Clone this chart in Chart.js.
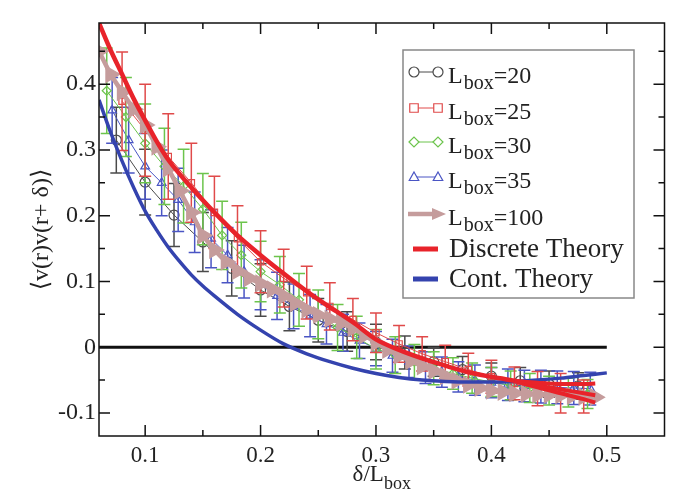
<!DOCTYPE html>
<html>
<head>
<meta charset="utf-8">
<script src="https://cdn.jsdelivr.net/npm/chart.js@4.4.1/dist/chart.umd.min.js"></script>
<style>
  html, body { margin: 0; padding: 0; background: #fff; }
  #wrap { width: 675px; height: 495px; }
</style>
</head>
<body>
<div id="wrap"><canvas id="corr"></canvas></div>
<script>
/* ---------- data ---------- */
const x20 = [0.075, 0.1, 0.125, 0.15, 0.175, 0.2, 0.225, 0.25, 0.275, 0.3, 0.325, 0.35, 0.375, 0.4, 0.425, 0.45, 0.475];
const y20 = [0.315, 0.251, 0.201, 0.160, 0.120, 0.087, 0.062, 0.041, 0.024, 0.008, -0.008, -0.022, -0.034, -0.044, -0.051, -0.056, -0.059];
const err20 = [0.05, 0.05, 0.048, 0.045, 0.042, 0.04, 0.037, 0.033, 0.03, 0.027, 0.025, 0.022, 0.02, 0.02, 0.02, 0.02, 0.02];

const x25 = [0.08, 0.10, 0.12, 0.14, 0.16, 0.18, 0.20, 0.22, 0.24, 0.26, 0.28, 0.30, 0.32, 0.34, 0.36, 0.38, 0.40, 0.42, 0.44, 0.46, 0.48];
const y25 = [0.374, 0.330, 0.290, 0.250, 0.205, 0.165, 0.130, 0.105, 0.083, 0.062, 0.042, 0.022, 0.005, -0.010, -0.022, -0.034, -0.045, -0.055, -0.063, -0.070, -0.075];
const err25 = [0.075, 0.07, 0.065, 0.06, 0.055, 0.05, 0.047, 0.044, 0.04, 0.036, 0.032, 0.03, 0.028, 0.026, 0.025, 0.025, 0.025, 0.025, 0.026, 0.03, 0.025];

const x30 = [0.0667, 0.0833, 0.1, 0.1167, 0.1333, 0.15, 0.1667, 0.1833, 0.2, 0.2167, 0.2333, 0.25, 0.2667, 0.2833, 0.3, 0.3167, 0.3333, 0.35, 0.3667, 0.3833, 0.4, 0.4167, 0.4333, 0.45, 0.4667, 0.4833];
const y30 = [0.39, 0.35, 0.31, 0.275, 0.245, 0.21, 0.17, 0.14, 0.115, 0.095, 0.072, 0.05, 0.03, 0.015, -0.003, -0.012, -0.022, -0.032, -0.04, -0.047, -0.053, -0.058, -0.062, -0.066, -0.069, -0.071];
const err30 = [0.065, 0.06, 0.06, 0.058, 0.056, 0.054, 0.052, 0.05, 0.046, 0.043, 0.04, 0.037, 0.035, 0.032, 0.03, 0.028, 0.026, 0.025, 0.024, 0.023, 0.022, 0.022, 0.022, 0.022, 0.022, 0.022];

const x35 = [0.0714, 0.0857, 0.1, 0.1143, 0.1286, 0.1429, 0.1571, 0.1714, 0.1857, 0.2, 0.2143, 0.2286, 0.2429, 0.2571, 0.2714, 0.2857, 0.3, 0.3143, 0.3286, 0.3429, 0.3571, 0.3714, 0.3857, 0.4, 0.4143, 0.4286, 0.4429, 0.4571, 0.4714, 0.4857];
const y35 = [0.36, 0.315, 0.275, 0.25, 0.224, 0.19, 0.165, 0.14, 0.115, 0.095, 0.078, 0.062, 0.048, 0.035, 0.022, 0.01, -0.002, -0.013, -0.022, -0.031, -0.038, -0.045, -0.05, -0.054, -0.057, -0.059, -0.06, -0.061, -0.062, -0.063];
const err35 = [0.05, 0.05, 0.05, 0.05, 0.048, 0.046, 0.044, 0.042, 0.04, 0.038, 0.036, 0.034, 0.032, 0.03, 0.028, 0.027, 0.026, 0.025, 0.024, 0.024, 0.023, 0.023, 0.023, 0.023, 0.024, 0.024, 0.025, 0.025, 0.025, 0.025];

const x100 = [0.06, 0.07, 0.08, 0.09, 0.10, 0.11, 0.12, 0.13, 0.14, 0.15, 0.16, 0.17, 0.18, 0.19, 0.20, 0.21, 0.22, 0.23, 0.24, 0.25, 0.26, 0.27, 0.28, 0.29, 0.30, 0.31, 0.32, 0.33, 0.34, 0.35, 0.36, 0.37, 0.38, 0.39, 0.40, 0.41, 0.42, 0.43, 0.44, 0.45, 0.46, 0.47, 0.48, 0.49];
const y100 = [0.450, 0.415, 0.388, 0.362, 0.338, 0.305, 0.272, 0.238, 0.205, 0.170, 0.148, 0.130, 0.116, 0.105, 0.097, 0.088, 0.078, 0.067, 0.057, 0.049, 0.043, 0.037, 0.029, 0.018, 0.007, -0.004, -0.013, -0.021, -0.029, -0.036, -0.044, -0.051, -0.057, -0.062, -0.066, -0.068, -0.070, -0.071, -0.072, -0.072, -0.073, -0.074, -0.075, -0.076];

const xDiscrete = [0.06, 0.07, 0.08, 0.09, 0.10, 0.11, 0.12, 0.14, 0.16, 0.18, 0.20, 0.22, 0.24, 0.26, 0.28, 0.30, 0.32, 0.34, 0.36, 0.38, 0.40, 0.42];
const yDiscrete = [0.493, 0.452, 0.415, 0.378, 0.345, 0.313, 0.285, 0.243, 0.205, 0.170, 0.140, 0.112, 0.085, 0.061, 0.038, 0.012, -0.004, -0.017, -0.028, -0.038, -0.045, -0.051];
const xBranch = [0.42, 0.44, 0.46, 0.48, 0.49];
const yBranchA = [-0.051, -0.054, -0.056, -0.056, -0.055];
const yBranchB = [-0.051, -0.058, -0.064, -0.070, -0.073];
const yBranchC = [-0.051, -0.061, -0.070, -0.079, -0.084];

const xCont = [0.06, 0.07, 0.08, 0.09, 0.10, 0.11, 0.12, 0.13, 0.14, 0.15, 0.16, 0.18, 0.20, 0.22, 0.24, 0.26, 0.28, 0.30, 0.32, 0.34, 0.36, 0.38, 0.40, 0.42, 0.44, 0.46, 0.48, 0.50];
const yCont = [0.376, 0.327, 0.283, 0.243, 0.207, 0.178, 0.152, 0.130, 0.110, 0.093, 0.078, 0.050, 0.026, 0.005, -0.010, -0.022, -0.032, -0.040, -0.046, -0.050, -0.052, -0.053, -0.053, -0.052, -0.050, -0.047, -0.043, -0.039];

const xZero = [0.06, 0.5];
const yZero = [0, 0];

const xTicks = [0.1, 0.15, 0.2, 0.25, 0.3, 0.35, 0.4, 0.45, 0.5];
const yTicks = [-0.1, -0.05, 0, 0.05, 0.1, 0.15, 0.2, 0.25, 0.3, 0.35, 0.4, 0.45];

const legendLabels = ['=20', '=25', '=30', '=35', '=100', 'Discrete Theory', 'Cont. Theory'];

/* ---------- colours ---------- */
const COL = {
  l20: '#4a4a4a',
  l25: '#e04a4a',
  l30: '#6cc44c',
  l35: '#4a55c4',
  l100: '#c59c9c',
  discrete: '#e8232a',
  cont: '#3443ae'
};
const SERIF = "'Liberation Serif', 'DejaVu Serif', serif";

function pts(xs, ys) {
  return xs.map((x, i) => ({ x: x, y: ys[i] }));
}

function isMajor(v) {
  return Math.abs(v * 10 - Math.round(v * 10)) < 1e-6;
}

/* ---------- plugins ---------- */
// error bars, drawn right after their own dataset so layering follows dataset order
const errorBars = {
  id: 'errorBars',
  afterDatasetDraw(chart, args) {
    const ds = chart.data.datasets[args.index];
    if (!ds.errors) return;
    const { ctx, chartArea, scales } = chart;
    ctx.save();
    ctx.beginPath();
    ctx.rect(chartArea.left, chartArea.top, chartArea.right - chartArea.left, chartArea.bottom - chartArea.top);
    ctx.clip();
    ctx.strokeStyle = ds.borderColor;
    ctx.lineWidth = 1.5;
    ds.data.forEach((p, i) => {
      const px = scales.x.getPixelForValue(p.x);
      const top = scales.y.getPixelForValue(p.y + ds.errors[i]);
      const bot = scales.y.getPixelForValue(p.y - ds.errors[i]);
      ctx.beginPath();
      ctx.moveTo(px, top); ctx.lineTo(px, bot);
      ctx.moveTo(px - 6, top); ctx.lineTo(px + 6, top);
      ctx.moveTo(px - 6, bot); ctx.lineTo(px + 6, bot);
      ctx.stroke();
    });
    ctx.restore();
  }
};

// box frame with inward ticks on all four sides
const frameTicks = {
  id: 'frameTicks',
  afterDraw(chart) {
    const { ctx, chartArea: a, scales } = chart;
    ctx.save();
    ctx.strokeStyle = '#111';
    ctx.lineWidth = 1.5;
    ctx.strokeRect(a.left, a.top, a.right - a.left, a.bottom - a.top);
    ctx.beginPath();
    scales.x.ticks.forEach(t => {
      const px = scales.x.getPixelForValue(t.value);
      const len = isMajor(t.value) ? 11 : 6;
      ctx.moveTo(px, a.bottom); ctx.lineTo(px, a.bottom - len);
      ctx.moveTo(px, a.top); ctx.lineTo(px, a.top + len);
    });
    scales.y.ticks.forEach(t => {
      const py = scales.y.getPixelForValue(t.value);
      const len = isMajor(t.value) ? 11 : 6;
      ctx.moveTo(a.left, py); ctx.lineTo(a.left + len, py);
      ctx.moveTo(a.right, py); ctx.lineTo(a.right - len, py);
    });
    ctx.stroke();
    ctx.restore();
  }
};

// axis titles (subscript needs manual text runs)
const axisTitles = {
  id: 'axisTitles',
  afterDraw(chart) {
    const { ctx, chartArea: a } = chart;
    ctx.save();
    ctx.fillStyle = '#222';
    ctx.textBaseline = 'alphabetic';
    // x title: δ/L_box
    const main = 'δ/L';
    ctx.font = '18px ' + SERIF;
    const subW = ctx.measureText('box').width;
    ctx.font = '23px ' + SERIF;
    const mainW = ctx.measureText(main).width;
    const x0 = (a.left + a.right) / 2 - (mainW + subW) / 2;
    ctx.fillText(main, x0, 481);
    ctx.font = '18px ' + SERIF;
    ctx.fillText('box', x0 + mainW, 489);
    // y title
    ctx.translate(48, (a.top + a.bottom) / 2);
    ctx.rotate(-Math.PI / 2);
    ctx.font = '24px ' + SERIF;
    ctx.textAlign = 'center';
    ctx.fillText('⟨v(r)v(r+ δ)⟩', 0, 0);
    ctx.restore();
  }
};

function drawMarker(ctx, style, x, y, r, color) {
  ctx.beginPath();
  if (style === 'circle') {
    ctx.arc(x, y, r, 0, Math.PI * 2);
  } else if (style === 'rect') {
    ctx.rect(x - r * 0.85, y - r * 0.85, r * 1.7, r * 1.7);
  } else if (style === 'rectRot') {
    ctx.moveTo(x - r, y); ctx.lineTo(x, y - r); ctx.lineTo(x + r, y); ctx.lineTo(x, y + r); ctx.closePath();
  } else if (style === 'triangle') {
    ctx.moveTo(x, y - r); ctx.lineTo(x + r * 0.95, y + r * 0.7); ctx.lineTo(x - r * 0.95, y + r * 0.7); ctx.closePath();
  }
  ctx.strokeStyle = color;
  ctx.lineWidth = 1.2;
  ctx.fillStyle = '#fff';
  ctx.fill();
  ctx.stroke();
}

// legend box drawn by hand (subscripts)
const boxLegend = {
  id: 'boxLegend',
  afterDraw(chart) {
    const { ctx } = chart;
    const L = 403, T = 50, R = 634, B = 298;
    ctx.save();
    ctx.fillStyle = '#fff';
    ctx.fillRect(L, T, R - L, B - T);
    ctx.strokeStyle = '#888';
    ctx.lineWidth = 1.5;
    ctx.strokeRect(L, T, R - L, B - T);

    const rows = [72, 108, 142, 177, 214, 249, 279];
    const styles = ['circle', 'rect', 'rectRot', 'triangle'];
    const cols = [COL.l20, COL.l25, COL.l30, COL.l35];
    for (let i = 0; i < 4; i++) {
      const y = rows[i];
      ctx.strokeStyle = cols[i];
      ctx.lineWidth = 1;
      ctx.beginPath(); ctx.moveTo(414, y); ctx.lineTo(438, y); ctx.stroke();
      drawMarker(ctx, styles[i], 414, y, 5, cols[i]);
      drawMarker(ctx, styles[i], 438, y, 5, cols[i]);
    }
    // L=100 arrow sample
    ctx.strokeStyle = COL.l100;
    ctx.fillStyle = COL.l100;
    ctx.lineWidth = 4.5;
    ctx.beginPath(); ctx.moveTo(408, rows[4]); ctx.lineTo(434, rows[4]); ctx.stroke();
    ctx.beginPath();
    ctx.moveTo(446, rows[4]); ctx.lineTo(432, rows[4] - 6); ctx.lineTo(432, rows[4] + 6); ctx.closePath();
    ctx.fill();
    // theory samples
    ctx.lineWidth = 5;
    ctx.strokeStyle = COL.discrete;
    ctx.beginPath(); ctx.moveTo(413, rows[5]); ctx.lineTo(438, rows[5]); ctx.stroke();
    ctx.strokeStyle = COL.cont;
    ctx.beginPath(); ctx.moveTo(413, rows[6]); ctx.lineTo(438, rows[6]); ctx.stroke();

    // texts
    ctx.fillStyle = '#222';
    ctx.textBaseline = 'alphabetic';
    for (let i = 0; i < 5; i++) {
      const y = rows[i] + 11;
      ctx.font = '24px ' + SERIF;
      ctx.fillText('L', 448, y);
      const lw = ctx.measureText('L').width;
      ctx.font = '20px ' + SERIF;
      ctx.fillText('box', 448 + lw + 1, y + 6);
      const bw = ctx.measureText('box').width;
      ctx.font = '24px ' + SERIF;
      ctx.fillText(legendLabels[i], 448 + lw + 1 + bw, y);
    }
    ctx.font = '27px ' + SERIF;
    ctx.fillText(legendLabels[5], 449, rows[5] + 8);
    ctx.fillText(legendLabels[6], 449, rows[6] + 8);
    ctx.restore();
  }
};

/* ---------- chart ---------- */
const ctx = document.getElementById('corr');

new Chart(ctx, {
  type: 'scatter',
  data: {
    datasets: [
      { label: 'Discrete Theory', data: pts(xDiscrete, yDiscrete), borderColor: COL.discrete, borderWidth: 4.5, pointRadius: 0, showLine: true, cubicInterpolationMode: 'monotone', order: 0 },
      { label: 'Discrete Theory a', data: pts(xBranch, yBranchA), borderColor: COL.discrete, borderWidth: 4, pointRadius: 0, showLine: true, cubicInterpolationMode: 'monotone', order: 0 },
      { label: 'Discrete Theory b', data: pts(xBranch, yBranchB), borderColor: COL.discrete, borderWidth: 4, pointRadius: 0, showLine: true, cubicInterpolationMode: 'monotone', order: 0 },
      { label: 'Discrete Theory c', data: pts(xBranch, yBranchC), borderColor: COL.discrete, borderWidth: 4, pointRadius: 0, showLine: true, cubicInterpolationMode: 'monotone', order: 0 },
      { label: 'Cont. Theory', data: pts(xCont, yCont), borderColor: COL.cont, borderWidth: 3.5, pointRadius: 0, showLine: true, cubicInterpolationMode: 'monotone', order: 1 },
      { label: 'L=100', data: pts(x100, y100), borderColor: COL.l100, backgroundColor: COL.l100, borderWidth: 4.5, pointStyle: 'triangle', pointRotation: 90, pointRadius: 6, showLine: true, order: 2 },
      { label: 'L=25', data: pts(x25, y25), errors: err25, borderColor: COL.l25, backgroundColor: 'rgba(0,0,0,0)', borderWidth: 1, pointStyle: 'rect', pointRadius: 4.5, pointBorderWidth: 1.2, showLine: true, order: 3 },
      { label: 'L=30', data: pts(x30, y30), errors: err30, borderColor: COL.l30, backgroundColor: 'rgba(0,0,0,0)', borderWidth: 1, pointStyle: 'rectRot', pointRadius: 4.5, pointBorderWidth: 1.2, showLine: true, order: 4 },
      { label: 'L=35', data: pts(x35, y35), errors: err35, borderColor: COL.l35, backgroundColor: 'rgba(0,0,0,0)', borderWidth: 1, pointStyle: 'triangle', pointRadius: 5, pointBorderWidth: 1.2, showLine: true, order: 5 },
      { label: 'L=20', data: pts(x20, y20), errors: err20, borderColor: COL.l20, backgroundColor: 'rgba(0,0,0,0)', borderWidth: 1, pointStyle: 'circle', pointRadius: 5, pointBorderWidth: 1.2, showLine: true, order: 6 },
      { label: 'zero', data: pts(xZero, yZero), borderColor: '#111', borderWidth: 3, pointRadius: 0, showLine: true, order: 7 }
    ]
  },
  options: {
    responsive: true,
    maintainAspectRatio: false,
    animation: false,
    layout: { padding: { top: 23, right: 2, left: 0, bottom: 0 } },
    plugins: {
      legend: { display: false },
      tooltip: { enabled: false }
    },
    scales: {
      x: {
        type: 'linear',
        min: 0.06,
        max: 0.55,
        bounds: 'data',
        grid: { display: false, drawTicks: false },
        border: { display: false },
        afterBuildTicks: scale => { scale.ticks = xTicks.map(v => ({ value: v })); },
        afterFit: scale => { scale.height = 59; },
        ticks: {
          autoSkip: false,
          maxRotation: 0,
          padding: 6,
          color: '#222',
          font: { family: SERIF, size: 23 },
          callback: v => isMajor(v) ? v.toFixed(1) : ''
        }
      },
      y: {
        type: 'linear',
        min: -0.135,
        max: 0.493,
        bounds: 'data',
        grid: { display: false, drawTicks: false },
        border: { display: false },
        afterBuildTicks: scale => { scale.ticks = yTicks.map(v => ({ value: v })); },
        afterFit: scale => { scale.width = 99; },
        ticks: {
          autoSkip: false,
          padding: 3,
          color: '#222',
          font: { family: SERIF, size: 24 },
          callback: v => isMajor(v) ? (Math.abs(v) < 1e-9 ? '0' : v.toFixed(1)) : ''
        }
      }
    }
  },
  plugins: [errorBars, frameTicks, axisTitles, boxLegend]
});
</script>
</body>
</html>
